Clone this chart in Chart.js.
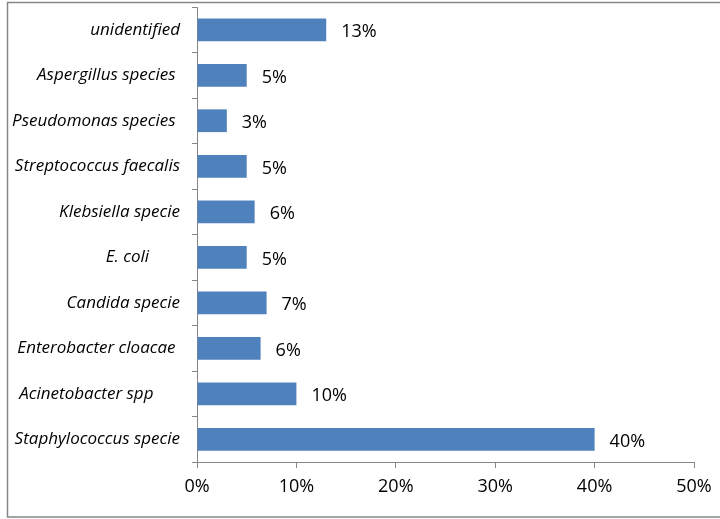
<!DOCTYPE html>
<html>
<head>
<meta charset="utf-8">
<script src="https://cdn.jsdelivr.net/npm/chart.js@4"></script>
<style>
  html, body { margin: 0; padding: 0; background: #fff; }
  #wrap { position: relative; width: 720px; height: 519px; }
</style>
</head>
<body>
<div id="wrap"><canvas id="orgChart"></canvas></div>
<script>
// categories, top to bottom (trailing spaces keep the original label offsets)
const organisms = [
    'unidentified',
    'Aspergillus species ',
    'Pseudomonas species ',
    'Streptococcus faecalis',
    'Klebsiella specie',
    'E. coli       ',
    'Candida specie',
    'Enterobacter cloacae ',
    'Acinetobacter spp      ',
    'Staphylococcus specie'
];
const percents = [13, 5, 3, 5, 5.8, 5, 7, 6.4, 10, 40];
const xTicks = [0, 10, 20, 30, 40, 50];

const axisGrey = '#868686';

// values written at the end of each bar
const valueLabels = {
    id: 'valueLabels',
    afterDatasetsDraw(chart) {
        const ctx = chart.ctx;
        const meta = chart.getDatasetMeta(0);
        ctx.save();
        ctx.font = '18px "Open Sans"';
        ctx.fillStyle = '#000';
        ctx.textBaseline = 'middle';
        ctx.textAlign = 'left';
        meta.data.forEach((bar, i) => {
            ctx.fillText(Math.round(percents[i]) + '%', bar.x + 15, bar.y + 2.5);
        });
        ctx.restore();
    }
};

// outer frame like the spreadsheet chart area
const frame = {
    id: 'frame',
    afterDraw(chart) {
        const ctx = chart.ctx;
        ctx.save();
        ctx.strokeStyle = axisGrey;
        ctx.lineWidth = 1.5;
        ctx.strokeRect(7.5, 2.5, 740, 514.5);
        ctx.restore();
    }
};

const ctxOrg = document.getElementById('orgChart').getContext('2d');
const orgChart = new Chart(ctxOrg, {
    type: 'bar',
    data: {
        labels: organisms,
        datasets: [{
            data: percents,
            backgroundColor: '#4f81bd',
            borderWidth: 0,
            categoryPercentage: 1,
            barPercentage: 0.5
        }]
    },
    options: {
        indexAxis: 'y',
        responsive: true,
        maintainAspectRatio: false,
        animation: false,
        layout: { padding: { top: 7, right: 26, left: 0, bottom: 0 } },
        plugins: {
            legend: { display: false },
            tooltip: { enabled: false }
        },
        scales: {
            x: {
                min: 0,
                max: 50,
                afterBuildTicks: (scale) => { scale.ticks = xTicks.map(v => ({ value: v })); },
                afterFit: (scale) => {
                    scale.height = 57;
                    scale.paddingLeft = 0;
                    scale.paddingRight = 0;
                },
                grid: { display: true, drawOnChartArea: false, color: axisGrey, tickLength: 6 },
                border: { color: axisGrey },
                ticks: {
                    color: '#000',
                    padding: 8,
                    font: { family: 'Open Sans', size: 18 },
                    callback: (v) => v + '%'
                }
            },
            y: {
                afterFit: (scale) => {
                    scale.width = 197;
                    scale.paddingTop = 0;
                    scale.paddingBottom = 0;
                },
                grid: { display: true, drawOnChartArea: false, color: axisGrey, tickLength: 5 },
                border: { color: axisGrey },
                ticks: {
                    color: '#000',
                    padding: 12,
                    autoSkip: false,
                    font: { family: 'Open Sans', size: 17, style: 'italic' }
                }
            }
        }
    },
    plugins: [valueLabels, frame]
});
</script>
</body>
</html>
